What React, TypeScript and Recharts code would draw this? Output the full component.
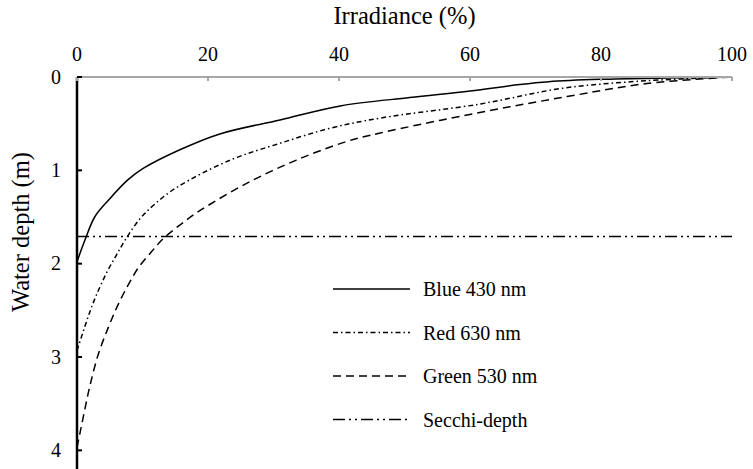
import React from 'react';
import { LineChart, Line, XAxis, YAxis, Legend } from 'recharts';

const FONT = "'Liberation Serif', 'Times New Roman', serif";
const txt = { fontFamily: FONT };

// Irradiance (%) and water depth (m) for each series
const blueX = [0, 1.2, 2.7, 4.8, 7.8, 10.1, 15.7, 21.8, 31, 40.2, 50.8, 60, 67.6, 72, 79.8, 90, 100];
const blueDepth = [1.98, 1.75, 1.5, 1.32, 1.1, 0.98, 0.78, 0.61, 0.46, 0.31, 0.22, 0.15, 0.08, 0.05, 0.025, 0.01, 0];

const redX = [0, 0.7, 1.5, 2.2, 3.0, 4.5, 6.0, 7.5, 9.6, 11.9, 15.3, 23.4, 31, 38.6, 46.3, 61.5, 74.2, 87, 100];
const redDepth = [2.93, 2.78, 2.61, 2.47, 2.33, 2.1, 1.91, 1.73, 1.52, 1.36, 1.18, 0.89, 0.71, 0.55, 0.44, 0.29, 0.12, 0.04, 0];

const greenX = [0, 0.5, 1.2, 2.0, 3.3, 4.8, 6.2, 7.8, 9.4, 11.4, 13.2, 16.0, 18.8, 25.9, 33.5, 41.2, 46.3, 61.5, 74.8, 87, 100];
const greenDepth = [3.97, 3.8, 3.56, 3.3, 2.96, 2.68, 2.45, 2.23, 2.04, 1.87, 1.73, 1.57, 1.43, 1.14, 0.89, 0.69, 0.6, 0.38, 0.21, 0.07, 0];

const secchiX = [0, 100];
const secchiDepth = [1.71, 1.71];

const xTicks = [0, 20, 40, 60, 80, 100];
const yTicks = [0, 1, 2, 3, 4];

const toPoints = (xs: number[], ds: number[]) => xs.map((x, i) => ({ x, depth: ds[i] }));

const series = [
  { name: 'Blue 430 nm', data: toPoints(blueX, blueDepth), dash: undefined as string | undefined },
  { name: 'Red 630 nm', data: toPoints(redX, redDepth), dash: '5 3 1.5 3' },
  { name: 'Green 530 nm', data: toPoints(greenX, greenDepth), dash: '8 5' },
  { name: 'Secchi-depth', data: toPoints(secchiX, secchiDepth), dash: '12 4 2 4 2 4' },
];

// Centripetal Catmull-Rom curve factory (d3-shape curve interface)
const catmullRom = (context: any) => {
  let pts: number[][] = [];
  const A = 0.5;
  return {
    areaStart() {},
    areaEnd() {},
    lineStart() {
      pts = [];
    },
    point(x: number, y: number) {
      pts.push([+x, +y]);
    },
    lineEnd() {
      const n = pts.length;
      if (n === 0) return;
      context.moveTo(pts[0][0], pts[0][1]);
      if (n === 1) return;
      for (let i = 0; i < n - 1; i++) {
        const p0 = pts[i - 1] || pts[i];
        const p1 = pts[i];
        const p2 = pts[i + 1];
        const p3 = pts[i + 2] || pts[i + 1];
        const d1 = Math.hypot(p1[0] - p0[0], p1[1] - p0[1]);
        const d2 = Math.hypot(p2[0] - p1[0], p2[1] - p1[1]);
        const d3 = Math.hypot(p3[0] - p2[0], p3[1] - p2[1]);
        const d1a = Math.pow(d1, A), d2a = Math.pow(d2, A), d3a = Math.pow(d3, A);
        const d1b = d1a * d1a, d2b = d2a * d2a, d3b = d3a * d3a;
        let c1x = p1[0], c1y = p1[1], c2x = p2[0], c2y = p2[1];
        if (d1 > 1e-9) {
          const a = 2 * d1b + 3 * d1a * d2a + d2b;
          const m = 3 * d1a * (d1a + d2a);
          c1x = (p1[0] * a - p0[0] * d2b + p2[0] * d1b) / m;
          c1y = (p1[1] * a - p0[1] * d2b + p2[1] * d1b) / m;
        }
        if (d3 > 1e-9) {
          const b = 2 * d3b + 3 * d3a * d2a + d2b;
          const m = 3 * d3a * (d3a + d2a);
          c2x = (p2[0] * b + p1[0] * d3b - p3[0] * d2b) / m;
          c2y = (p2[1] * b + p1[1] * d3b - p3[1] * d2b) / m;
        }
        context.bezierCurveTo(c1x, c1y, c2x, c2y, p2[0], p2[1]);
      }
    },
  };
};

const XTick = (props: any) => {
  const { x, y, payload } = props;
  return (
    <g>
      <line x1={x} x2={x} y1={y} y2={y + 4} stroke="#a6a6a6" strokeWidth={2} />
      <text x={x} y={y - 16} textAnchor="middle" fontSize={20} style={txt} fill="#000">
        {payload.value}
      </text>
    </g>
  );
};

const YTick = (props: any) => {
  const { x, y, payload } = props;
  return (
    <g>
      <line x1={x} x2={x + 5} y1={y} y2={y} stroke="#000" strokeWidth={2} />
      <text x={x - 16} y={y + 6.5} textAnchor="end" fontSize={20} style={txt} fill="#000">
        {payload.value}
      </text>
    </g>
  );
};

const LegendContent = () => (
  <svg width={260} height={170} style={{ display: 'block' }}>
    {series.map((s, i) => (
      <g key={s.name}>
        <line x1={3} x2={80} y1={19 + i * 43.5} y2={19 + i * 43.5} stroke="#000" strokeWidth={1.5} strokeDasharray={s.dash} />
        <text x={93} y={26 + i * 43.5} fontSize={20} style={txt} fill="#000">
          {s.name}
        </text>
      </g>
    ))}
  </svg>
);

export default function App() {
  return (
    <div style={{ position: 'absolute', left: 0, top: 0, width: 753, height: 469, background: '#fff', fontFamily: FONT }}>
      <LineChart width={753} height={469} margin={{ top: 0, right: 21, bottom: 0, left: 0 }} style={txt}>
        <XAxis
          type="number"
          dataKey="x"
          orientation="top"
          domain={[0, 100]}
          ticks={xTicks}
          height={77}
          axisLine={{ stroke: '#a6a6a6', strokeWidth: 2 }}
          tickLine={false}
          tickSize={0}
          tickMargin={0}
          tick={<XTick />}
          interval={0}
          label={{
            value: 'Irradiance (%)',
            content: (p: any) => (
              <text x={p.viewBox.x + p.viewBox.width / 2} y={24} textAnchor="middle" fontSize={24.5} style={txt} fill="#000">
                Irradiance (%)
              </text>
            ),
          }}
        />
        <YAxis
          type="number"
          dataKey="depth"
          reversed
          domain={[0, 4.2]}
          ticks={yTicks}
          width={77}
          axisLine={{ stroke: '#000', strokeWidth: 2.5 }}
          tickLine={false}
          tickSize={0}
          tickMargin={0}
          tick={<YTick />}
          interval={0}
          label={{
            value: 'Water depth (m)',
            content: () => (
              <text x={29} y={232} transform="rotate(-90 29 232)" textAnchor="middle" fontSize={24.5} style={txt} fill="#000">
                Water depth (m)
              </text>
            ),
          }}
        />
        {series.map((s) => (
          <Line
            key={s.name}
            data={s.data}
            dataKey="depth"
            name={s.name}
            type={s.name === 'Secchi-depth' ? 'linear' : (catmullRom as any)}
            stroke="#000"
            strokeWidth={1.5}
            strokeDasharray={s.dash}
            dot={false}
            activeDot={false}
            isAnimationActive={false}
          />
        ))}
        <Legend
          layout="vertical"
          align="center"
          verticalAlign="middle"
          content={<LegendContent />}
          wrapperStyle={{ position: 'absolute', left: 330, top: 270, width: 260, height: 170 }}
        />
      </LineChart>
    </div>
  );
}
